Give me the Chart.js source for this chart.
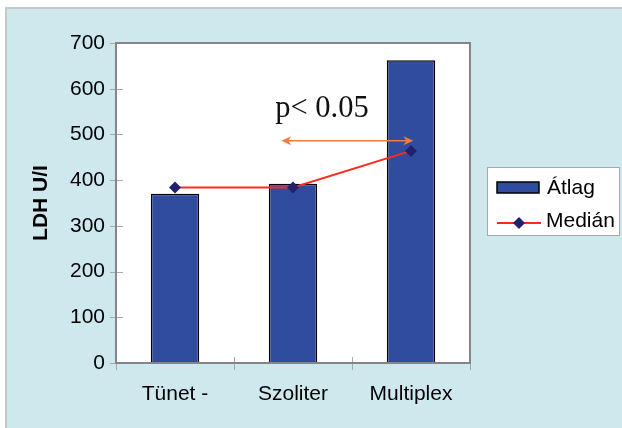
<!DOCTYPE html>
<html>
<head>
<meta charset="utf-8">
<script src="https://cdn.jsdelivr.net/npm/chart.js@4"></script>
<style>
  html, body { margin: 0; padding: 0; background: #ffffff; }
  #frame {
    position: absolute; left: 5px; top: 7px; width: 617px; height: 421px;
    background: #cfe8ee; border-left: 2px solid #c2cacc; border-top: 2px solid #c2cacc;
    box-sizing: border-box;
  }
  #wrap { position: absolute; left: 0; top: 0; width: 622px; height: 428px; }
</style>
</head>
<body>
<div id="frame"></div>
<div id="wrap"><canvas id="c" width="622" height="428"></canvas></div>
<script>
// LDH (U/I) by group: mean (bars) and median (line)
const categories = ['Tünet -', 'Szoliter', 'Multiplex'];
const atlagValues = [370, 392, 662];
const medianValues = [384, 384, 464];
const yTicks = [0, 100, 200, 300, 400, 500, 600, 700];

// significance bracket between Szoliter and Multiplex
const sigLabel = 'p< 0.05';
const sigFrom = 0.9;
const sigTo = 2.02;
const sigLevel = 486;
const sigTextLevel = 538;
const sigTextPos = 1.245;

const BAR_BLUE = '#2f4c9f';
const MEDIAN_RED = '#ff2a1e';
const MARKER_NAVY = '#22226c';
const AXIS_GREY = '#858585';
const SANS = '"Liberation Sans", Arial, sans-serif';

const plotDecor = {
  id: 'plotDecor',
  beforeDatasetsDraw(chart) {
    const { ctx, chartArea: a } = chart;
    ctx.save();
    ctx.fillStyle = '#ffffff';
    ctx.fillRect(a.left, a.top, a.right - a.left, a.bottom - a.top);
    ctx.restore();
  },
  afterDatasetsDraw(chart) {
    const { ctx, chartArea: a, scales: { x, y } } = chart;
    ctx.save();
    // crossing tick marks
    ctx.strokeStyle = '#a9a9a9';
    ctx.lineWidth = 1;
    yTicks.forEach(v => {
      const py = Math.round(y.getPixelForValue(v)) + 0.5;
      ctx.beginPath(); ctx.moveTo(a.left - 6, py); ctx.lineTo(a.left + 7, py); ctx.stroke();
    });
    for (let i = 0; i <= categories.length; i++) {
      const px = Math.round(x.getPixelForValue(i - 0.5)) + 0.5;
      ctx.beginPath(); ctx.moveTo(px, a.bottom - 6); ctx.lineTo(px, a.bottom + 7); ctx.stroke();
    }
    // plot frame
    ctx.strokeStyle = AXIS_GREY;
    ctx.lineWidth = 2;
    ctx.strokeRect(a.left, a.top, a.right - a.left, a.bottom - a.top);
    ctx.restore();
  },
  afterDraw(chart) {
    const { ctx, scales: { x, y } } = chart;
    ctx.save();
    // significance arrow
    const x1 = x.getPixelForValue(sigFrom), x2 = x.getPixelForValue(sigTo);
    const ay = y.getPixelForValue(sigLevel);
    ctx.strokeStyle = '#f47b3c';
    ctx.fillStyle = '#f47b3c';
    ctx.lineWidth = 1.5;
    ctx.beginPath(); ctx.moveTo(x1 + 6, ay); ctx.lineTo(x2 - 6, ay); ctx.stroke();
    [[x1, 1], [x2, -1]].forEach(([px, d]) => {
      ctx.beginPath();
      ctx.moveTo(px, ay);
      ctx.lineTo(px + d * 10, ay - 4.5);
      ctx.lineTo(px + d * 7, ay);
      ctx.lineTo(px + d * 10, ay + 4.5);
      ctx.closePath(); ctx.fill();
    });
    ctx.fillStyle = '#111111';
    ctx.font = '30.5px "Liberation Serif", "Times New Roman", serif';
    ctx.textAlign = 'center';
    ctx.textBaseline = 'alphabetic';
    ctx.fillText(sigLabel, x.getPixelForValue(sigTextPos), y.getPixelForValue(sigTextLevel));

    // legend
    const lx = 487, ly = 167, lw = 133, lh = 69;
    ctx.fillStyle = '#ffffff';
    ctx.fillRect(lx, ly, lw, lh);
    ctx.strokeStyle = '#a8a8a8';
    ctx.lineWidth = 1;
    ctx.strokeRect(lx + 0.5, ly + 0.5, lw - 1, lh - 1);
    const ds = chart.data.datasets;
    ctx.font = '21px ' + SANS;
    ctx.textAlign = 'left';
    ctx.textBaseline = 'middle';
    // bar entry
    ctx.fillStyle = ds[0].backgroundColor;
    ctx.fillRect(497, 182, 42, 11);
    ctx.strokeStyle = '#000000';
    ctx.lineWidth = 1.5;
    ctx.strokeRect(497, 182, 42, 11);
    ctx.fillStyle = '#000000';
    ctx.fillText(ds[0].label, 547, 188);
    // line entry
    ctx.strokeStyle = ds[1].borderColor;
    ctx.lineWidth = 2;
    ctx.beginPath(); ctx.moveTo(497, 223); ctx.lineTo(541, 223); ctx.stroke();
    ctx.fillStyle = MARKER_NAVY;
    ctx.beginPath();
    ctx.moveTo(519, 217); ctx.lineTo(525, 223); ctx.lineTo(519, 229); ctx.lineTo(513, 223);
    ctx.closePath(); ctx.fill();
    ctx.fillStyle = '#000000';
    ctx.fillText(ds[1].label, 546, 221);
    ctx.restore();
  }
};

new Chart(document.getElementById('c'), {
  data: {
    labels: categories,
    datasets: [
      {
        type: 'bar',
        label: 'Átlag',
        data: atlagValues,
        backgroundColor: BAR_BLUE,
        borderColor: '#000000',
        borderWidth: 1.5,
        barPercentage: 0.41,
        categoryPercentage: 1,
        order: 2
      },
      {
        type: 'line',
        label: 'Medián',
        data: medianValues,
        borderColor: MEDIAN_RED,
        borderWidth: 2,
        pointStyle: 'rectRot',
        pointRadius: 6,
        pointBackgroundColor: MARKER_NAVY,
        pointBorderColor: MARKER_NAVY,
        pointBorderWidth: 0,
        tension: 0,
        order: 1
      }
    ]
  },
  options: {
    responsive: false,
    animation: false,
    events: [],
    layout: { padding: { left: 0, top: 43, right: 152, bottom: 0 } },
    plugins: { legend: { display: false }, tooltip: { enabled: false } },
    scales: {
      x: {
        type: 'category',
        offset: true,
        grid: { display: false, drawTicks: false },
        border: { display: false },
        ticks: {
          color: '#000000',
          padding: 19,
          maxRotation: 0,
          font: { family: SANS, size: 21 }
        },
        afterFit(s) { s.height = 65; }
      },
      y: {
        min: 0,
        max: 700,
        grid: { display: false, drawTicks: false },
        border: { display: false },
        afterBuildTicks(s) { s.ticks = yTicks.map(v => ({ value: v })); },
        ticks: {
          color: '#000000',
          padding: 11,
          font: { family: SANS, size: 21 }
        },
        title: {
          display: true,
          text: 'LDH U/I',
          color: '#000000',
          padding: { top: 29, bottom: 0 },
          font: { family: SANS, size: 21, weight: 'bold' }
        },
        afterFit(s) { s.width = 116; }
      }
    }
  },
  plugins: [plotDecor]
});
</script>
</body>
</html>
